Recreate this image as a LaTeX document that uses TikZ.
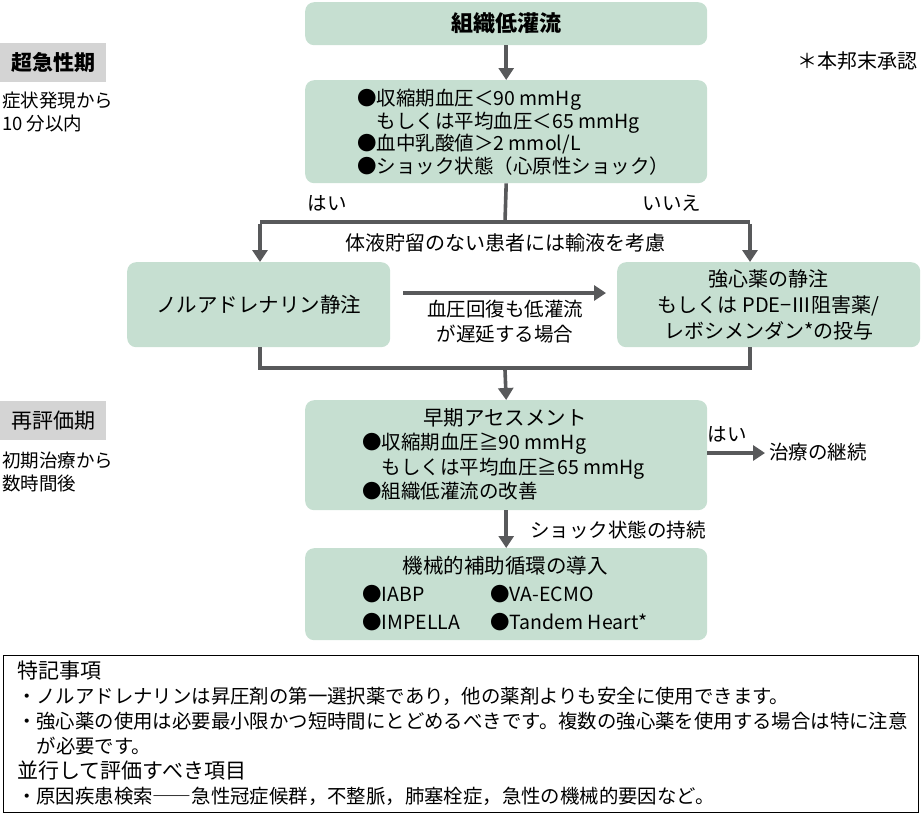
\documentclass[tikz,border=0pt]{standalone}
\usepackage{fontspec}
\setmainfont{Noto Sans CJK JP}
\usetikzlibrary{arrows.meta}
\definecolor{boxgreen}{HTML}{C6DFD1}
\definecolor{arrgray}{HTML}{58595B}
\definecolor{labgray}{HTML}{D4D4D4}
\tikzset{
  gbox/.style={fill=boxgreen, rounded corners=9pt, draw=none},
  conn/.style={draw=arrgray, line width=3.6pt},
  arr/.style={conn, -{Triangle[length=12pt,width=15pt]}},
  txt/.style={font=\fontsize{19.5}{22.5}\selectfont, inner sep=0pt},
  ttl/.style={font=\fontsize{22}{25}\selectfont\bfseries, inner sep=0pt},
  mid/.style={font=\fontsize{20.5}{24}\selectfont, inner sep=0pt},
}
\begin{document}
\begin{tikzpicture}[x=1pt,y=-1pt]
\useasboundingbox (0,0) rectangle (922,814);
% boxes
\node[gbox, minimum width=402pt, minimum height=43pt, anchor=north west] (b1) at (305,2) {};
\node[ttl] at (b1.center) {組織低灌流};
\node[gbox, minimum width=402pt, minimum height=103pt, anchor=north west] (b2) at (305,80) {};
\node[txt, anchor=north west, align=left] (t2) at (357,89) {●収縮期血圧＜90 mmHg\\\hspace*{19.5pt}もしくは平均血圧＜65 mmHg\\●血中乳酸値＞2 mmol/L\\●ショック状態（心原性ショック）};
\node[gbox, minimum width=263pt, minimum height=85pt, anchor=north west] (b3) at (127,262) {};
\node[mid] at (b3.center) {ノルアドレナリン静注};
\node[gbox, minimum width=303pt, minimum height=85pt, anchor=north west] (b4) at (617,262) {};
\node[mid, font=\fontsize{20}{26}\selectfont, align=center] at (b4.center) {強心薬の静注\\もしくは PDE−Ⅲ阻害薬/\\レボシメンダン*の投与};
\node[gbox, minimum width=402pt, minimum height=110pt, anchor=north west] (b5) at (305,400) {};
\node[mid] at (505,418) {早期アセスメント};
\node[txt, anchor=north west, align=left, font=\fontsize{19.5}{24.5}\selectfont] at (362,433) {●収縮期血圧≧90 mmHg\\\hspace*{19.5pt}もしくは平均血圧≧65 mmHg\\●組織低灌流の改善};
\node[gbox, minimum width=402pt, minimum height=92pt, anchor=north west] (b6) at (305,548) {};
\node[mid] at (505,566) {機械的補助循環の導入};
\node[txt, anchor=west] at (362,594) {●IABP};
\node[txt, anchor=west] at (490,594) {●VA-ECMO};
\node[txt, anchor=west] at (362,622) {●IMPELLA};
\node[txt, anchor=west] at (490,622) {●Tandem Heart*};
% left labels
\node[fill=labgray, minimum width=106pt, minimum height=39pt, anchor=north west, inner sep=0pt] (p1) at (0,43) {};
\node[ttl, font=\fontsize{21}{24}\selectfont\bfseries] at (p1.center) {超急性期};
\node[txt, font=\fontsize{18.5}{23}\selectfont, anchor=north west, align=left] at (2,92) {症状発現から\\10 分以内};
\node[fill=labgray, minimum width=106pt, minimum height=39pt, anchor=north west, inner sep=0pt] (p2) at (0,401) {};
\node[mid, font=\fontsize{21}{24}\selectfont] at (p2.center) {再評価期};
\node[txt, font=\fontsize{18.5}{23}\selectfont, anchor=north west, align=left] at (2,452) {初期治療から\\数時間後};
\node[txt, font=\fontsize{20}{24}\selectfont, anchor=east] at (918,61) {＊本邦末承認};
% connectors
\coordinate (split) at (505,222);
\coordinate (sl) at (260,222);
\coordinate (sr) at (750,222);
\coordinate (jl) at (260,370);
\coordinate (jr) at (750,370);
\coordinate (jm) at (505,370);
\draw[arr] (b1.south) -- (b2.north);
\draw[conn] (b2.south) -- (split);
\draw[conn] (sl) -- (sr);
\draw[arr] ([yshift=-1.8pt]sl) -- (sl |- b3.north);
\draw[arr] ([yshift=-1.8pt]sr) -- (sr |- b4.north);
\node[txt] at (327,203) {はい};
\node[txt] at (672,203) {いいえ};
\node[txt, font=\fontsize{20}{24}\selectfont] at (505,243) {体液貯留のない患者には輸液を考慮};
\coordinate (ha) at (403,293);
\coordinate (hb) at (606,293);
\draw[arr] (ha) -- (hb);
\node[txt, align=center, font=\fontsize{19.5}{25}\selectfont] at (505,322) {血圧回復も低灌流\\が遅延する場合};
\draw[conn] (jl |- b3.south) -- ([yshift=1.8pt]jl) -- ([yshift=1.8pt]jr) -- (jr |- b4.south);
\draw[arr] (jm) -- (b5.north);
\coordinate (cont) at (765,453);
\draw[arr] (b5.east |- cont) -- (cont);
\node[txt] at (727,434) {はい};
\node[txt, anchor=west] (t7) at (769,452) {治療の継続};
\draw[arr] (b5.south) -- (b6.north);
\node[txt, anchor=west] at (530,530) {ショック状態の持続};
% note box
\node[draw=black, line width=0.8pt, minimum width=915pt, minimum height=157pt, anchor=north west, inner sep=0pt] (nb) at (3,655) {};
\node[txt, anchor=north west, align=left, font=\fontsize{19.4}{25}\selectfont] at (17,661) {{\fontsize{21}{22}\selectfont 特記事項}\\
・ノルアドレナリンは昇圧剤の第一選択薬であり，他の薬剤よりも安全に使用できます。\\
・強心薬の使用は必要最小限かつ短時間にとどめるべきです。複数の強心薬を使用する場合は特に注意\\
\hspace*{19.4pt}が必要です。\\
{\fontsize{21}{22}\selectfont 並行して評価すべき項目}\\
・原因疾患検索――急性冠症候群，不整脈，肺塞栓症，急性の機械的要因など。};
\end{tikzpicture}
\end{document}
